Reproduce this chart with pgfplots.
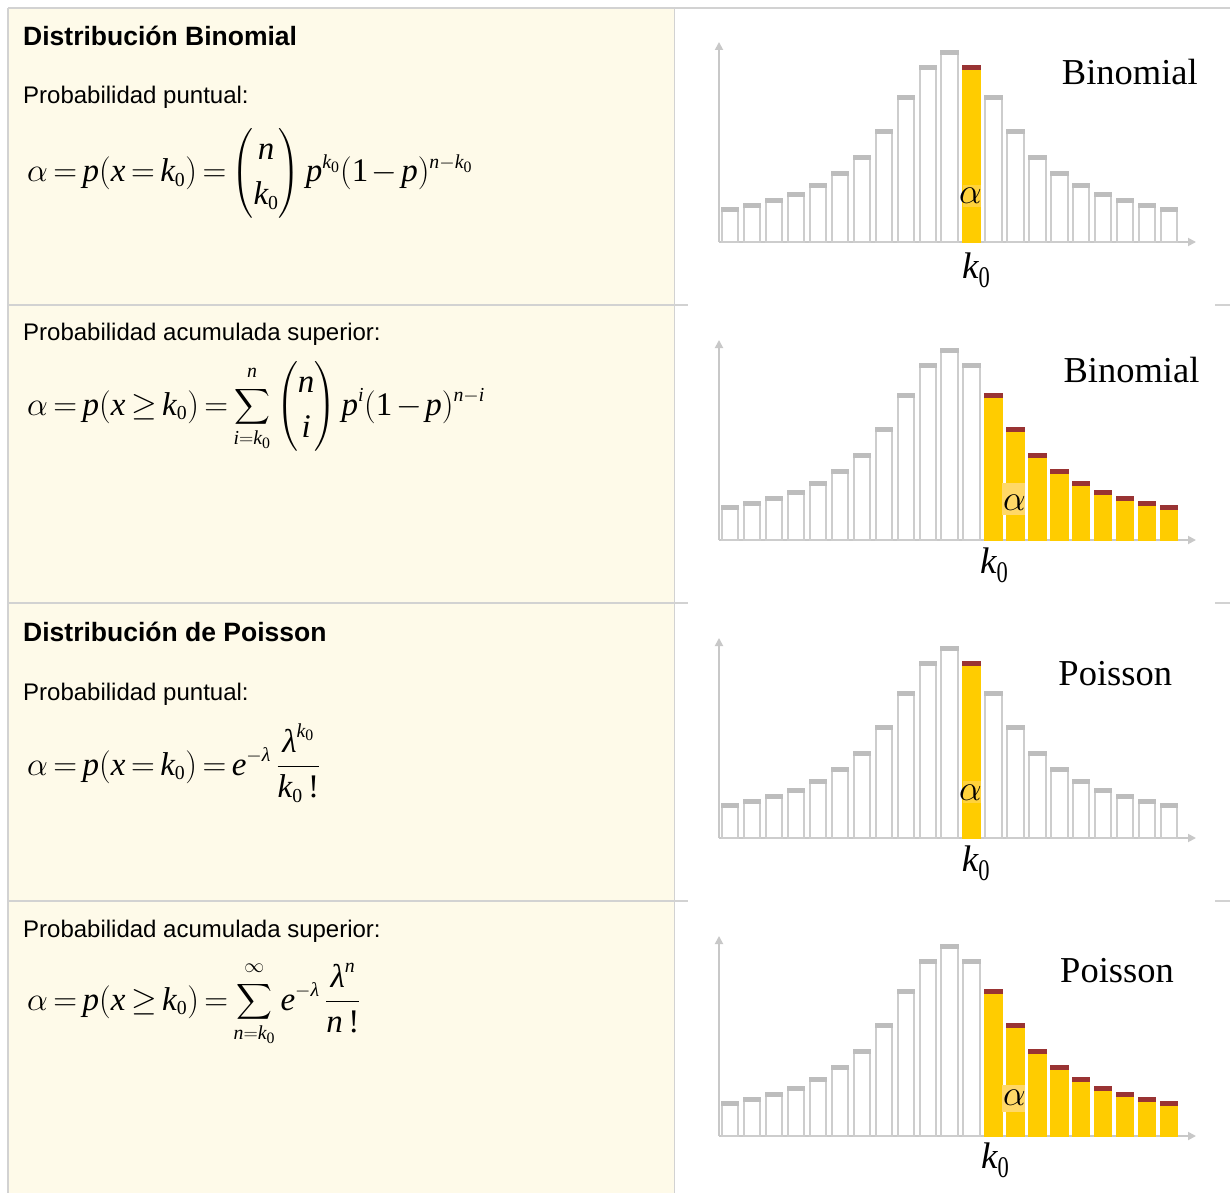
\RequirePackage{fix-cm}
\documentclass[border=0pt]{standalone}
\usepackage{amsmath}
\usepackage[no-math]{fontspec}
\setmainfont{Liberation Sans}
\newfontfamily\serif{Liberation Serif}
\usepackage{graphicx}
\usepackage{pgfplots}
\pgfplotsset{compat=1.18}
\usepackage{pgfplotstable}
\usetikzlibrary{arrows.meta}

\renewcommand{\defaultscriptratio}{.6}
\renewcommand{\defaultscriptscriptratio}{.48}

\definecolor{cream}{HTML}{FEFAE9}
\definecolor{bordergray}{HTML}{D2D2D2}
\definecolor{axisgray}{HTML}{C8C8C8}
\definecolor{bargray}{HTML}{CDCDCD}
\definecolor{capgray}{HTML}{BDBDBD}
\definecolor{baryellow}{HTML}{FFCC00}
\definecolor{capred}{HTML}{993333}
\definecolor{glow}{HTML}{FFD868}
\definecolor{softglow}{HTML}{FFD23C}

% bar heights of the distribution sketch (same shape in every panel)
\pgfplotstableread{
k h
1 34
2 38
3 43
4 49
5 58
6 70
7 86
8 112
9 146
10 176
11 191
12 176
13 146
14 112
15 86
16 70
17 58
18 49
19 43
20 38
21 34
}\dist

% thick caps on top of the bars
\pgfdeclareplotmark{graycap}{%
  \pgfsetfillcolor{capgray}%
  \pgfpathrectangle{\pgfqpoint{-9.15pt}{-4pt}}{\pgfqpoint{18.3pt}{5pt}}%
  \pgfusepathqfill}
\pgfdeclareplotmark{redcap}{%
  \pgfsetfillcolor{capred}%
  \pgfpathrectangle{\pgfqpoint{-9.15pt}{-4pt}}{\pgfqpoint{18.3pt}{5pt}}%
  \pgfusepathqfill}

\pgfplotsset{
  distchart/.style={
    anchor=south west,
    x=21.95pt, y=1pt,
    xmin=0.4943, xmax=22.225, ymin=0, ymax=200,
    axis lines=left,
    axis line style={draw=axisgray, line width=1.8pt, -{Triangle[width=8pt,length=8pt]}},
    xtick=\empty, ytick=\empty,
    clip=false,
  },
  whitebars/.style={ybar, bar width=16.3pt, bar shift=0pt, fill=white,
    draw=bargray, line width=2pt, mark=graycap},
  yellowbars/.style={ybar, bar width=16.3pt, bar shift=0pt, fill=baryellow,
    draw=baryellow, line width=2pt, mark=redcap},
}

\newcommand{\mi}[1]{\text{\serif\itshape #1}}
\newcommand{\mr}[1]{\text{\serif #1}}
\newcommand{\kz}{\mi{k}_{\mr{0}}}
\newcommand{\lblfont}{\serif\fontsize{36.5}{36.5}\selectfont}
\newcommand{\alphafont}{\fontsize{36}{36}\selectfont}
\newcommand{\kzero}{{\serif\itshape\fontsize{37}{37}\selectfont k}\raisebox{-9pt}{\serif\fontsize{30}{30}\selectfont\scalebox{0.75}[1]{0}}}
\newcommand{\headfont}{\bfseries\fontsize{26.5}{30}\selectfont}
\newcommand{\bodyfont}{\fontsize{24}{28}\selectfont}
\newcommand{\formfont}{\fontsize{33}{38}\selectfont\thickmuskip=3mu plus 1mu\medmuskip=2mu plus 1mu}

\begin{document}
\begin{tikzpicture}
\fill[white] (0pt,0pt) rectangle (1230pt,-1193pt);
\begin{scope}[x=1pt, y=-1pt]
  % left column and table rules
  \fill[cream] (8,8) rectangle (674,1193);
  \draw[bordergray, line width=1.5pt] (8,8) -- (1230,8);
  \draw[bordergray, line width=1.5pt] (8,8) -- (8,1193);
  \draw[bordergray, line width=1.5pt] (674.5,8) -- (674.5,1193);
  \foreach \yy in {305,603,901}{
    \draw[bordergray, line width=1.5pt] (8,\yy) -- (688,\yy);
    \draw[bordergray, line width=1.5pt] (1215,\yy) -- (1230,\yy);
  }
  % row 1
  \node[anchor=base west, inner sep=0pt, font=\headfont] at (23,46) {Distribución Binomial};
  \node[anchor=base west, inner sep=0pt, font=\bodyfont] at (23,104) {Probabilidad puntual:};
  \node[anchor=base west, inner sep=0pt, font=\formfont] at (27,182)
    {$\displaystyle \alpha = \mi{p}(\mi{x} = \kz) = \binom{\mi{n}}{\kz}\,\mi{p}^{\kz}(\mr{1} - \mi{p})^{\mi{n} - \kz}$};
  % row 2
  \node[anchor=base west, inner sep=0pt, font=\bodyfont] at (23,340) {Probabilidad acumulada superior:};
  \node[anchor=base west, inner sep=0pt, font=\formfont] at (27,415)
    {$\displaystyle \alpha = \mi{p}(\mi{x} \geq \kz) = \sum_{\rule{0pt}{12pt}\mi{i}=\kz}^{\mi{n}\rule[-7pt]{0pt}{0pt}}\binom{\mi{n}}{\mi{i}}\,\mi{p}^{\mi{i}}(\mr{1} - \mi{p})^{\mi{n} - \mi{i}}$};
  % row 3
  \node[anchor=base west, inner sep=0pt, font=\headfont] at (23,641) {Distribución de Poisson};
  \node[anchor=base west, inner sep=0pt, font=\bodyfont] at (23,700) {Probabilidad puntual:};
  \node[anchor=base west, inner sep=0pt, font=\formfont] at (27,775)
    {$\displaystyle \alpha = \mi{p}(\mi{x} = \kz) = \mi{e}^{-\mi{λ}}\,\frac{\mi{λ}^{\kz}}{\kz\,\mr{!}}$};
  % row 4
  \node[anchor=base west, inner sep=0pt, font=\bodyfont] at (23,937) {Probabilidad acumulada superior:};
  \node[anchor=base west, inner sep=0pt, font=\formfont] at (27,1010)
    {$\displaystyle \alpha = \mi{p}(\mi{x} \geq \kz) = \sum_{\rule{0pt}{12pt}\mi{n}=\kz}^{\infty\rule[-7pt]{0pt}{0pt}}\mi{e}^{-\mi{λ}}\,\frac{\mi{λ}^{\mi{n}}}{\mi{n}\,\mr{!}}$};
\end{scope}

% panel 1: binomial, single value
\begin{axis}[distchart, at={(719pt,-242pt)}]
  \addplot[whitebars] table[x=k, y=h] {\dist};
  \addplot[yellowbars, restrict x to domain=11.5:12.5] table[x=k, y=h] {\dist};
  \node[fill=softglow, minimum width=18pt, minimum height=22pt, inner sep=0pt] at (axis cs:12,46) {};
  \node[anchor=base, inner sep=0pt, font=\alphafont] at (axis cs:11.95,39) {$\alpha$};
  \node[anchor=base west, inner sep=0pt, font=\lblfont] at (axis cs:16.107,157) {Binomial};
  \node[anchor=base west, inner sep=0pt] at (axis cs:11.565,-36) {\kzero};
\end{axis}

% panel 2: binomial, upper tail
\begin{axis}[distchart, at={(719pt,-540pt)}]
  \addplot[whitebars] table[x=k, y=h] {\dist};
  \addplot[yellowbars, restrict x to domain=12.5:21.5] table[x=k, y=h] {\dist};
  \node[fill=glow, minimum width=23pt, minimum height=32pt, inner sep=0pt] at (axis cs:13.91,41) {};
  \node[anchor=base, inner sep=0pt, font=\alphafont] at (axis cs:13.95,30) {$\alpha$};
  \node[anchor=base west, inner sep=0pt, font=\lblfont] at (axis cs:16.18,158) {Binomial};
  \node[anchor=base west, inner sep=0pt] at (axis cs:12.385,-33) {\kzero};
\end{axis}

% panel 3: Poisson, single value
\begin{axis}[distchart, at={(719pt,-838pt)}]
  \addplot[whitebars] table[x=k, y=h] {\dist};
  \addplot[yellowbars, restrict x to domain=11.5:12.5] table[x=k, y=h] {\dist};
  \node[fill=softglow, minimum width=18pt, minimum height=22pt, inner sep=0pt] at (axis cs:12,46) {};
  \node[anchor=base, inner sep=0pt, font=\alphafont] at (axis cs:11.95,38) {$\alpha$};
  \node[anchor=base west, inner sep=0pt, font=\lblfont] at (axis cs:15.95,153) {Poisson};
  \node[anchor=base west, inner sep=0pt] at (axis cs:11.55,-33) {\kzero};
\end{axis}

% panel 4: Poisson, upper tail
\begin{axis}[distchart, at={(719pt,-1136pt)}]
  \addplot[whitebars] table[x=k, y=h] {\dist};
  \addplot[yellowbars, restrict x to domain=12.5:21.5] table[x=k, y=h] {\dist};
  \node[fill=glow, minimum width=23pt, minimum height=27pt, inner sep=0pt] at (axis cs:13.91,38) {};
  \node[anchor=base, inner sep=0pt, font=\alphafont] at (axis cs:13.95,31) {$\alpha$};
  \node[anchor=base west, inner sep=0pt, font=\lblfont] at (axis cs:16.03,154) {Poisson};
  \node[anchor=base west, inner sep=0pt] at (axis cs:12.43,-32) {\kzero};
\end{axis}

\pgfresetboundingbox
\path[use as bounding box] (0pt,0pt) rectangle (1230pt,-1193pt);
\end{tikzpicture}
\end{document}
